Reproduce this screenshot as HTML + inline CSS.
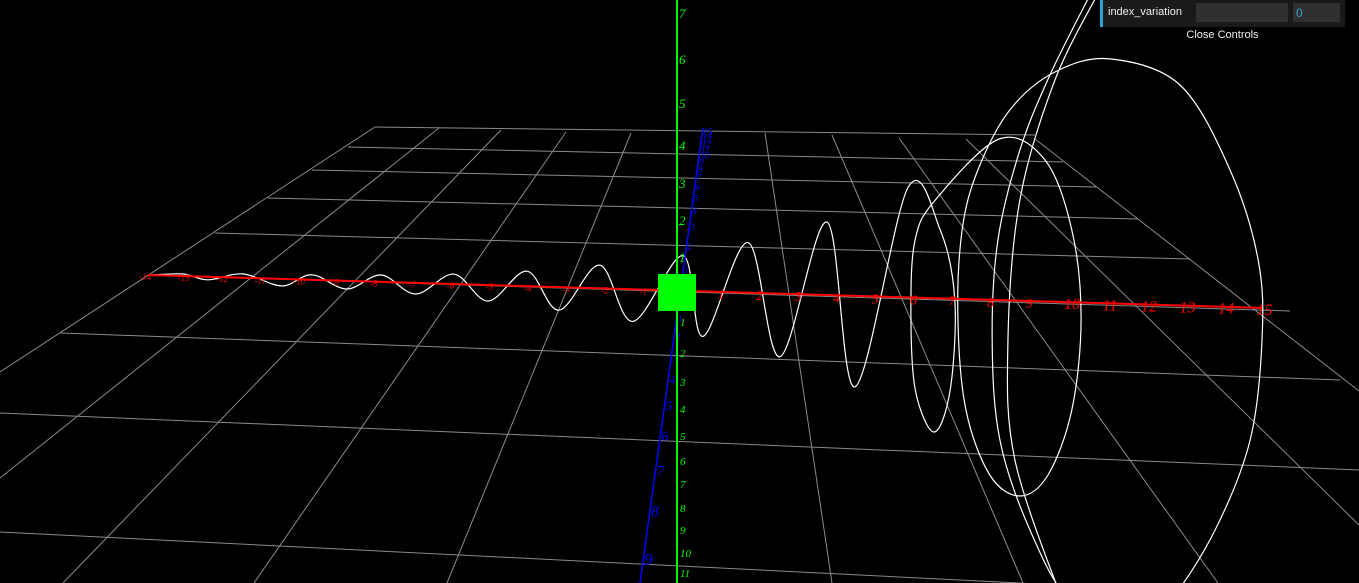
<!DOCTYPE html>
<html><head><meta charset="utf-8">
<style>
html,body{margin:0;padding:0;background:#000;overflow:hidden;width:1359px;height:583px}
#wrap{position:relative;width:1359px;height:583px;background:#000;overflow:hidden}
svg{position:absolute;left:0;top:0;overflow:hidden}
.gui{position:absolute;left:1100px;top:0;width:245px;height:27px;background:#1a1a1a;font-family:"Liberation Sans",sans-serif;font-size:11px;color:#eee}
.gui .bar{position:absolute;left:0;top:0;width:3px;height:27px;background:#2fa1d6}
.gui .lbl{position:absolute;left:8px;top:6px}
.gui .slider{position:absolute;left:96px;top:3px;width:92px;height:19px;background:#303030}
.gui .num{position:absolute;left:193px;top:3px;width:47px;height:19px;background:#303030;color:#2fa1d6;font-size:12px;line-height:20px;text-indent:3px}
.close{position:absolute;left:1100px;top:29px;width:245px;text-align:center;font-family:"Liberation Sans",sans-serif;font-size:11px;color:#eee}
</style></head>
<body>
<div id="wrap">
<svg id="chart" width="1359" height="583"></svg>
<div class="gui">
  <div class="bar"></div>
  <div class="lbl">index_variation</div>
  <div class="slider"></div>
  <div class="num">0</div>
</div>
<div class="close">Close Controls</div>
</div>
<script>
// ---- data ----
const xTicksNeg = [-14,-13,-12,-11,-10,-9,-8,-7,-6,-5,-4,-3,-2,-1];
const xTicksPos = [1,2,3,4,5,6,7,8,9,10,11,12,13,14,15];
const yTicksUp = [1,2,3,4,5,6,7];
const yTicksUpPos = [257,220,183,145,103,59,13];
const yTicksDown = [1,2,3,4,5,6,7,8,9,10,11];
const yTicksDownPos = [322,353,382,409,436,461,484,508,530,553,573];
const zTicksNear = [0,1,2,3,4,5,6,7,8,9];
const zTicksFar = [1,2,3,4,5,6,7,8,9,10,11,12,13,14,15];
// helix samples: position along x axis (units) and vertical offset (units)
const helixT = [-13.84,-12.99,-12.34,-11.43,-10.42,-9.64,-8.73,-7.84,-6.94,-5.95,-5.06,-4.05,-3.22,-2.16,-1.30,0,0.52,1.69,2.52,3.74,4.47,
  5.84,6.68,7.06,6.94,6.52,6.03,5.92,6.03,6.55,
  8.21,9.40,10.10,10.34,10.10,9.48,8.75,7.97,7.35,7.14,7.25,7.66,8.49,9.66,
  11.09,12.91,14.21,14.94,15.04,14.73,13.82,12.65,11.61,10.05,9.01,8.23,8.03,8.18,8.75,9.53,10.57];
const helixA = [0,-0.07,0.10,-0.13,0.23,-0.17,0.27,-0.23,0.37,-0.33,0.53,-0.5,0.77,-0.77,1.07,-1.17,1.5,-1.67,2.1,-2.43,3.03,
  -3.65,-2.28,0.04,3.04,4.46,3.06,0.39,-1.94,-3.27,
  -5.37,-4.72,-2.41,0.52,3.59,5.78,6.51,5.84,3.70,0.64,-2.30,-4.32,-6.35,-7.66,
  -8.15,-7.35,-4.56,-1.59,1.07,4.42,7.45,9.83,10.7,9.93,7.63,4.66,1.40,-2.0,-5.02,-7.55,-10.26];
const helix2T = [9.84,8.62,8.44,8.75,9.66,10.83];
const helix2A = [9.93,5.31,1.39,-3.36,-7.39,-10.44];

// ---- axis functions ----
function px(t){return 683+38.5*t;}
function py(t){return 290.8+1.135*t;}
function vy(a){return a*30;}
function zY(z){return z>=0 ? 300+15.66*z/(1-0.0509*z) : 300+34.1*z/(1-0.136*z);}
function zX(y){return 703-(y-128)*63/455;}

const NS='http://www.w3.org/2000/svg';
const svg=document.getElementById('chart');
function mk(tag,attrs,parent){const e=document.createElementNS(NS,tag);for(const k in attrs)e.setAttribute(k,attrs[k]);(parent||svg).appendChild(e);return e;}

// grid
const grid=mk('g',{stroke:'#8a8a8a','stroke-width':1,fill:'none'});


const gl=[[375,127,1035,135],[348,147,1063,162],[312,170,1097,187],[268,198,1138,219],[215,233,1190,259],[148,275,1290,311],[61,333,1340,380],[0,413,1359,470],[0,532,1359,600],
[375,127,0,372],[439,128,0,478],[501,130,63,583],[566,132,254,583],[631,133,447,583],[702,134,640,583],[765,133,832,583],[832,135,1023,583],[899,138,1218,583],[966,139,1359,525],[1035,139,1359,391]];
gl.forEach(l=>{const e=mk('line',{x1:l[0],y1:l[1],x2:l[2],y2:l[3]},grid);

});

// helix
function catmull(pts){let d='M'+pts[0][0]+','+pts[0][1];
 for(let i=0;i<pts.length-1;i++){const p0=pts[i-1]||pts[i],p1=pts[i],p2=pts[i+1],p3=pts[i+2]||p2;
  d+=' C'+(p1[0]+(p2[0]-p0[0])/6).toFixed(1)+','+(p1[1]+(p2[1]-p0[1])/6).toFixed(1)+' '+(p2[0]-(p3[0]-p1[0])/6).toFixed(1)+','+(p2[1]-(p3[1]-p1[1])/6).toFixed(1)+' '+p2[0].toFixed(1)+','+p2[1].toFixed(1);}
 return d;}
const hp=helixT.map((t,i)=>[px(t),py(t)+vy(helixA[i])]);
const h1=mk('path',{d:catmull(hp),stroke:'#fff','stroke-width':1.2,fill:'none'});


const hp2=helix2T.map((t,i)=>[px(t),py(t)+vy(helix2A[i])]);
const h2=mk('path',{d:catmull(hp2),stroke:'#fff','stroke-width':1.2,fill:'none'});



// x axis
const xa=mk('line',{x1:px(-13.9),y1:py(-13.9),x2:px(15),y2:py(15),stroke:'#ff0000','stroke-width':2});


xTicksNeg.forEach(v=>{const t=mk('text',{x:px(v)-5,y:py(v)+5,fill:'#ff0000','font-size':9,'font-style':'italic','font-family':'Liberation Serif, serif'},svg);t.textContent=v;

});
xTicksPos.forEach(v=>{const t=mk('text',{x:px(v)-4,y:py(v)+7,fill:'#ff0000','font-size':v>9?16:14,'font-style':'italic','font-family':'Liberation Serif, serif'},svg);t.textContent=v;

});

// z axis (blue)
const za=mk('line',{x1:zX(128),y1:128,x2:zX(583),y2:583,stroke:'#0000ff','stroke-width':1.5});


zTicksNear.forEach(v=>{const y=zY(v);const t=mk('text',{x:zX(y)+1,y:y+5,fill:'#0000ff','font-size':8+v,'font-style':'italic','font-family':'Liberation Serif, serif'},svg);t.textContent=v;

});
zTicksFar.forEach(v=>{const y=zY(-v);const t=mk('text',{x:zX(y)+1,y:y+3,fill:'#0000ff','font-size':9,'font-style':'italic','font-family':'Liberation Serif, serif'},svg);t.textContent=v;

});

// y axis (green)
const ya=mk('line',{x1:677,y1:0,x2:677,y2:583,stroke:'#00ff00','stroke-width':2});


yTicksUp.forEach((v,i)=>{const t=mk('text',{x:679,y:yTicksUpPos[i]+5,fill:'#00ff00','font-size':13,'font-style':'italic','font-family':'Liberation Serif, serif'},svg);t.textContent=v;

});
yTicksDown.forEach((v,i)=>{const t=mk('text',{x:680,y:Math.min(yTicksDownPos[i]+4,581),fill:'#00ff00','font-size':11,'font-style':'italic','font-family':'Liberation Serif, serif'},svg);t.textContent=v;

});

// origin cube
const cube=mk('rect',{x:658,y:274,width:38,height:37,fill:'#00ff00'});


</script>
</body></html>
